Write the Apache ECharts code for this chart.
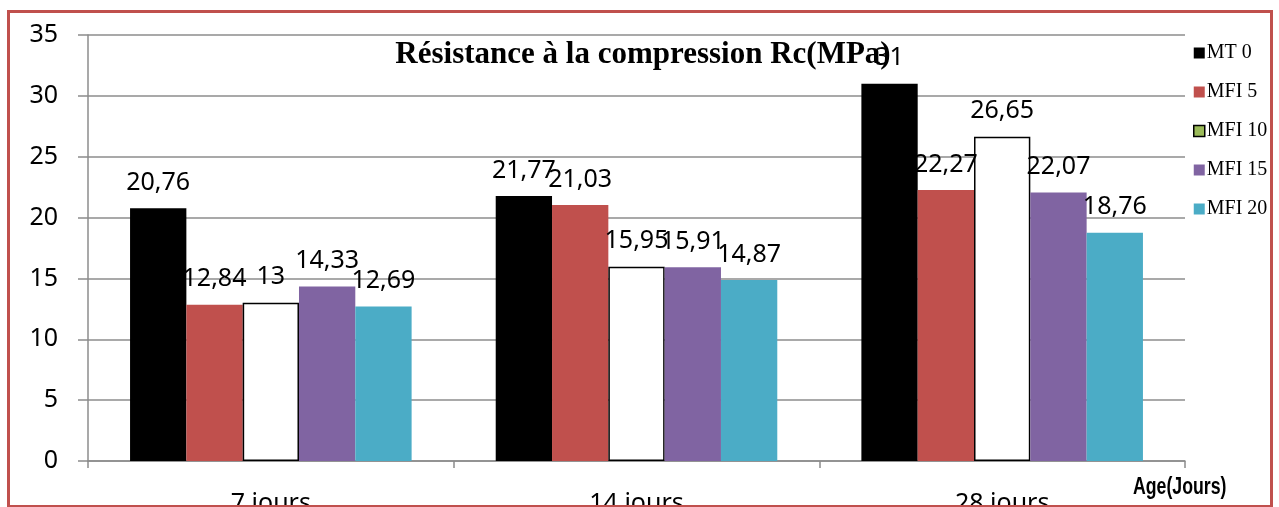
<!DOCTYPE html>
<html>
<head>
<meta charset="utf-8">
<script src="https://cdn.jsdelivr.net/npm/echarts@6/dist/echarts.min.js"></script>
<style>
  html, body { margin: 0; padding: 0; background: #fff; }
  #chart { width: 1279px; height: 507px; }
  .frame {
    position: absolute; left: 7px; top: 10px; width: 1266px; height: 497px;
    border: 3px solid #c0504d; border-bottom-width: 2px; box-sizing: border-box;
    pointer-events: none;
  }
</style>
</head>
<body>
<div id="chart"></div>
<div class="frame"></div>
<script>
const categories = ['7 jours', '14 jours', '28 jours']
const seriesNames = ['MT 0', 'MFI 5', 'MFI 10', 'MFI 15', 'MFI 20']
const mt0 = [20.76, 21.77, 31]
const mfi5 = [12.84, 21.03, 22.27]
const mfi10 = [13, 15.95, 26.65]
const mfi15 = [14.33, 15.91, 22.07]
const mfi20 = [12.69, 14.87, 18.76]
const yTicks = [0, 5, 10, 15, 20, 25, 30, 35]

const values = [mt0, mfi5, mfi10, mfi15, mfi20]
const fills = ['#000000', '#c0504d', '#ffffff', '#8064a2', '#4bacc6']
const legendFills = ['#000000', '#c0504d', '#9bbb59', '#8064a2', '#4bacc6']

const chart = echarts.init(document.getElementById('chart'))

const labelFont = '"Noto Sans", "Open Sans", sans-serif'

const series = seriesNames.map((name, i) => ({
  name,
  type: 'bar',
  data: values[i],
  barGap: 0,
  barCategoryGap: '23%',
  itemStyle: i === 2
    ? { color: fills[i], borderColor: '#000', borderWidth: 1.5 }
    : { color: fills[i] },
  label: {
    show: true,
    position: 'top',
    distance: 13,
    fontFamily: labelFont,
    fontSize: 25,
    color: '#000',
    formatter: p => String(p.value).replace('.', ',')
  },
  emphasis: { disabled: true }
}))

chart.setOption({
  animation: false,
  title: {
    text: 'Résistance à la compression Rc(MPa)',
    left: 638,
    textAlign: 'center',
    top: 34,
    textStyle: { fontFamily: '"Liberation Serif", "Times New Roman", serif', fontWeight: 'bold', fontSize: 31, color: '#000' }
  },
  legend: {
    orient: 'vertical',
    left: 1188,
    top: 38,
    itemWidth: 11,
    itemHeight: 11,
    itemGap: 19,
    icon: 'rect',
    textStyle: { fontFamily: '"Liberation Serif", "Times New Roman", serif', fontSize: 20, color: '#000', padding: [0, 0, 0, -3] },
    data: seriesNames.map((name, i) => ({
      name,
      itemStyle: i === 2
        ? { color: legendFills[i], borderColor: '#000', borderWidth: 1.5 }
        : { color: legendFills[i], borderWidth: 0 }
    }))
  },
  grid: { left: 88, right: 94, top: 35, bottom: 46, outerBoundsMode: 'none' },
  xAxis: {
    type: 'category',
    data: categories,
    axisLine: { lineStyle: { color: '#8c8c8c', width: 1.5 } },
    axisTick: { show: true, length: 7, lineStyle: { color: '#8c8c8c', width: 1.5 } },
    axisLabel: { margin: 30, fontFamily: labelFont, fontSize: 25, color: '#000' }
  },
  yAxis: {
    type: 'value',
    min: yTicks[0],
    max: yTicks[yTicks.length - 1],
    interval: 5,
    axisLine: { show: true, lineStyle: { color: '#8c8c8c', width: 1.5 } },
    axisTick: { show: true, length: 10, lineStyle: { color: '#8c8c8c', width: 1.5 } },
    axisLabel: { margin: 30, fontFamily: labelFont, fontSize: 25, color: '#000' },
    splitLine: { lineStyle: { color: '#8c8c8c', width: 1.5 } }
  },
  graphic: [{
    type: 'text',
    x: 1133,
    y: 476,
    scaleX: 0.77,
    style: {
      text: 'Age(Jours)',
      font: 'bold 23px "Liberation Sans", sans-serif',
      fill: '#000'
    }
  }],
  series
})
</script>
</body>
</html>
